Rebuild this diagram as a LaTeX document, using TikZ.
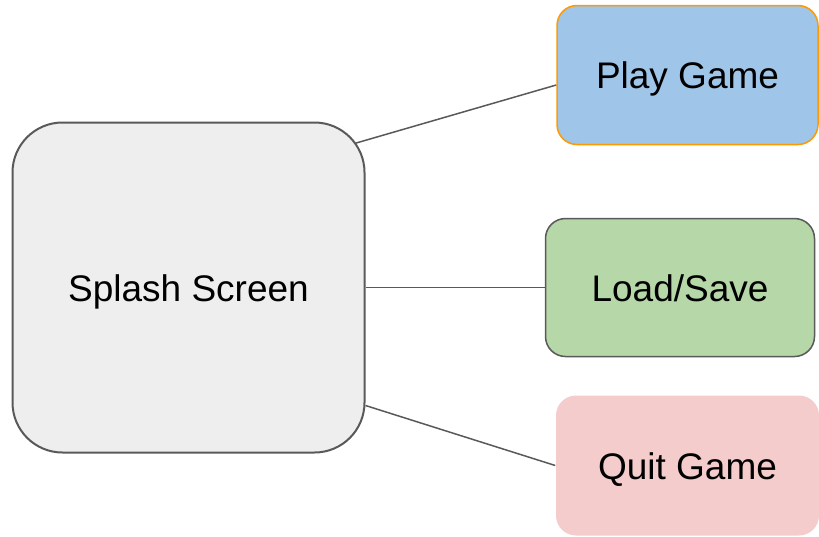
\documentclass[tikz,border=0pt]{standalone}
\usepackage{fontspec}
\setmainfont{Liberation Sans}
\usepackage{xcolor}
\usepackage{tikz}
\usetikzlibrary{shapes,arrows}
\definecolor{splashgray}{HTML}{EEEEEE}
\definecolor{edgegray}{HTML}{595959}
\definecolor{playblue}{HTML}{9FC5E8}
\definecolor{playorange}{HTML}{FF9900}
\definecolor{loadgreen}{HTML}{B6D7A8}
\definecolor{quitpink}{HTML}{F4CCCC}
\tikzstyle{block} = [rectangle, rounded corners=20pt, text centered, line width=1.5pt, font=\fontsize{37}{44}\selectfont, text height=27pt, text depth=0pt, inner sep=0pt]
\tikzstyle{line} = [draw, edgegray, line width=1.5pt]

\begin{document}
\begin{tikzpicture}[x=1pt,y=-1pt]
\useasboundingbox (0,0) rectangle (819,536);
\node [block, draw=edgegray, fill=splashgray, rounded corners=50pt, line width=2pt, minimum width=352pt, minimum height=330pt] (splash) at (188.5,287.5) {Splash Screen};
\node [block, draw=playorange, fill=playblue, minimum width=261pt, minimum height=139pt] (play) at (687.5,75) {Play Game};
\node [block, draw=edgegray, fill=loadgreen, minimum width=269pt, minimum height=138pt] (load) at (680,287.5) {Load/Save};
\node [block, fill=quitpink, minimum width=263pt, minimum height=140pt] (quit) at (687.5,465.5) {Quit Game};
\path [line] ([shift={(-11,22)}]splash.north east) -- ([shift={(0,10)}]play.west);
\path [line] (splash.east) -- (load.west);
\path [line] ([shift={(0,-48)}]splash.south east) -- (quit.west);
\end{tikzpicture}
\end{document}
